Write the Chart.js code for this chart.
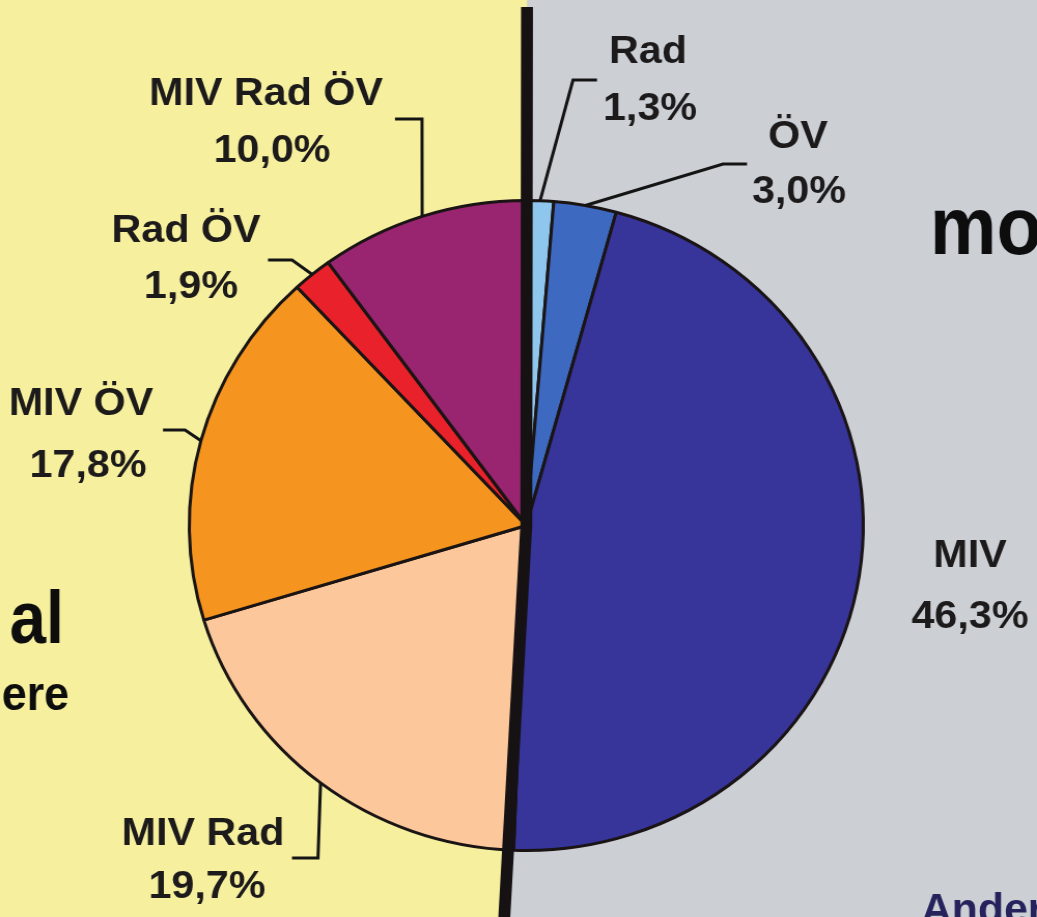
<!DOCTYPE html>
<html>
<head>
<meta charset="utf-8">
<script src="https://cdn.jsdelivr.net/npm/chart.js@4/dist/chart.umd.min.js"></script>
<style>
html,body{margin:0;padding:0;overflow:hidden;background:#ccd0d5;}
#wrap{width:1000px;height:917px;transform:scaleX(1.037);transform-origin:0 0;}
canvas{display:block;}
</style>
</head>
<body>
<div id="wrap"><canvas id="c" width="1000" height="917"></canvas></div>
<script>
// ---- data ----
const categories = ['Rad', 'ÖV', 'MIV', 'MIV Rad', 'MIV ÖV', 'Rad ÖV', 'MIV Rad ÖV'];
const shares = [1.3, 3.0, 46.3, 19.7, 17.8, 1.9, 10.0];
const shareLabels = ['1,3%', '3,0%', '46,3%', '19,7%', '17,8%', '1,9%', '10,0%'];
const sliceColors = ['#8fc6ee', '#3d69c0', '#37349a', '#fcc79b', '#f5951f', '#e8212a', '#992570'];
const sideTexts = ['mo', 'al', 'ere', 'Ander'];

// ---- layout (screen px) ----
const SX = 1.037;
const labelLayout = [
  {x1:648, y1:63,  x2:650, y2:120, elbow:[573,80],  end:[597,80]},
  {x1:798, y1:148, x2:799, y2:203, elbow:[723,164], end:[747,164]},
  {x1:970, y1:567, x2:970, y2:628, elbow:null, end:null},
  {x1:203, y1:845, x2:207, y2:898, elbow:[318,858], end:[292,858]},
  {x1:81,  y1:415, x2:88,  y2:477, elbow:[185,430], end:[163,430]},
  {x1:186, y1:242, x2:191, y2:298, elbow:[292,260], end:[268,260]},
  {x1:266, y1:105, x2:272, y2:162, elbow:[422,119], end:[395,119]}
];
const sideLayout = [
  {x:930, y:254, size:82, sx:0.88, align:'left',  color:'#0d0d0d'},
  {x:64,  y:643, size:75, sx:0.84, align:'right', color:'#0d0d0d'},
  {x:69,  y:710, size:48, sx:0.90, align:'right', color:'#0d0d0d'},
  {x:921, y:923, size:42, sx:0.98, align:'left',  color:'#26235c'}
];
const FONT = '"Liberation Sans", Arial, Helvetica, sans-serif';

function txt(ctx, s, xScreen, y, size, sx, align, color) {
  ctx.save();
  ctx.translate(xScreen / SX, y);
  ctx.scale(sx, 1);
  ctx.font = 'bold ' + size + 'px ' + FONT;
  ctx.textAlign = align;
  ctx.textBaseline = 'alphabetic';
  ctx.fillStyle = color;
  ctx.fillText(s, 0, 0);
  ctx.restore();
}

const decor = {
  id: 'decor',
  beforeDraw(chart) {
    const ctx = chart.ctx;
    const arc = chart.getDatasetMeta(0).data[0];
    ctx.save();
    ctx.fillStyle = '#ccd0d5';
    ctx.fillRect(0, 0, chart.width, chart.height);
    ctx.fillStyle = '#f6ef9d';
    ctx.beginPath();
    ctx.moveTo(0, 0);
    ctx.lineTo(527 / SX, 0);
    ctx.lineTo(arc.x, arc.y);
    ctx.lineTo(504 / SX, chart.height);
    ctx.lineTo(0, chart.height);
    ctx.closePath();
    ctx.fill();
    ctx.restore();
  },
  afterDatasetsDraw(chart) {
    const ctx = chart.ctx;
    const meta = chart.getDatasetMeta(0);
    const c = meta.data[0];
    // divider line, through the pie centre
    ctx.save();
    ctx.strokeStyle = '#161214';
    ctx.lineWidth = 11.5;
    ctx.lineJoin = 'round';
    ctx.beginPath();
    ctx.moveTo(527 / SX, 7);
    ctx.lineTo(c.x, c.y);
    ctx.lineTo(504 / SX, chart.height + 5);
    ctx.stroke();
    ctx.restore();
    // leaders and labels
    meta.data.forEach((arc, i) => {
      const L = labelLayout[i];
      const p = arc.getProps(['x', 'y', 'startAngle', 'endAngle', 'outerRadius'], true);
      const mid = (p.startAngle + p.endAngle) / 2;
      const ax = p.x + Math.cos(mid) * p.outerRadius;
      const ay = p.y + Math.sin(mid) * p.outerRadius;
      if (L.elbow) {
        ctx.save();
        ctx.strokeStyle = '#141414';
        ctx.lineWidth = 3;
        ctx.lineJoin = 'miter';
        ctx.beginPath();
        ctx.moveTo(ax, ay);
        ctx.lineTo(L.elbow[0] / SX, L.elbow[1]);
        ctx.lineTo(L.end[0] / SX, L.end[1]);
        ctx.stroke();
        ctx.restore();
      }
      txt(ctx, categories[i], L.x1, L.y1, 39, 1.02, 'center', '#1c1a1a');
      txt(ctx, shareLabels[i], L.x2, L.y2, 39, 1.02, 'center', '#1c1a1a');
    });
    sideTexts.forEach((s, i) => {
      const S = sideLayout[i];
      txt(ctx, s, S.x, S.y, S.size, S.sx, S.align, S.color);
    });
  }
};

new Chart(document.getElementById('c'), {
  type: 'pie',
  data: {
    labels: categories,
    datasets: [{
      data: shares,
      backgroundColor: sliceColors,
      borderColor: '#1a1414',
      borderWidth: 3
    }]
  },
  options: {
    responsive: false,
    animation: false,
    rotation: 0,
    layout: {padding: {top: 199, bottom: 65, left: 15, right: 0}},
    plugins: {legend: {display: false}, tooltip: {enabled: false}}
  },
  plugins: [decor]
});
</script>
</body>
</html>
